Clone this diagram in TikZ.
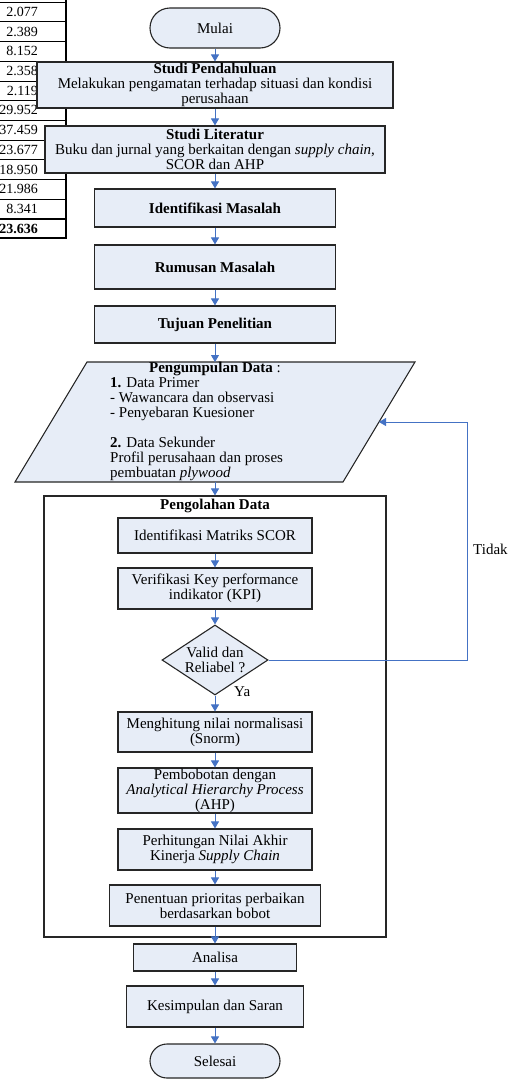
\documentclass[tikz,border=0pt]{standalone}
\usepackage{fontspec}
\setmainfont{Liberation Serif}
\usetikzlibrary{shapes.geometric,arrows.meta}
\definecolor{fondbleu}{RGB}{231,237,247}
\definecolor{bleufleche}{RGB}{68,114,196}

\begin{document}
\begin{tikzpicture}[x=1pt,y=-1pt]

\tikzset{texte/.style={inner sep=0pt,font=\fontsize{15}{15}\selectfont},
	boite/.style={texte,draw=black!85,line width=1.1pt,fill=fondbleu,align=center},
	lien/.style={-{Triangle[width=8pt,length=7pt]},bleufleche,line width=1pt}} %styles des boites et fleches

\useasboundingbox (0,0) rectangle (508,1079);

%----------tableau coupe a gauche------------
\foreach \k in {0,...,11}
	\draw[line width=0.6pt] (0,{2+19.7*\k}) -- (66,{2+19.7*\k});
\foreach \val [count=\i] in {2.077,2.389,8.152,2.358,2.119,29.952,37.459,23.677,18.950,21.986,8.341}
	\node[texte,anchor=east,font=\fontsize{14}{15}\selectfont] (n\i) at (38,{2+19.7*(\i-0.5)}) {\val};
\node[texte,anchor=east,font=\fontsize{14}{15}\selectfont\bfseries] (total) at (38,228.5) {23.636};
\draw[line width=2pt] (0,218.7) -- (66,218.7) (0,238.4) -- (67,238.4);
\draw[line width=2.5pt] (66,0) -- (66,238.4);

%----------debut------------
\node[boite,rounded corners=20pt,minimum width=130pt,minimum height=40pt] (mulai) at (215,28) {Mulai};

\node[boite,minimum width=356pt,minimum height=46pt] (pendahuluan) at (215,85)
	{\textbf{Studi Pendahuluan}\\Melakukan pengamatan terhadap situasi dan kondisi\\perusahaan};
\node[boite,minimum width=340pt,minimum height=47pt] (literatur) at (215,149.5)
	{\textbf{Studi Literatur}\\Buku dan jurnal yang berkaitan dengan \textit{supply chain},\\SCOR dan AHP};
\node[boite,minimum width=241pt,minimum height=38pt] (identifikasi) at (215,208) {\textbf{Identifikasi Masalah}};
\node[boite,minimum width=241pt,minimum height=44pt] (rumusan) at (215,267) {\textbf{Rumusan Masalah}};
\node[boite,minimum width=241pt,minimum height=37pt] (tujuan) at (215,324.5) {\textbf{Tujuan Penelitian}};

%----------pengumpulan data------------
\coordinate (kumpul-atas) at (215,362);
\coordinate (kumpul-bawah) at (215,482);
\coordinate (kumpul-kanan) at (379,422);
\draw[draw=black!85,line width=1.1pt,fill=fondbleu] (15,482) -- (343,482) -- (415,362) -- (87,362) -- cycle;
\node[texte] (kumpul-judul) at (215,369) {\textbf{Pengumpulan Data} :};
\node[texte,align=left,anchor=north west] (kumpul) at (110,377)
	{\textbf{1.} Data Primer\\- Wawancara dan observasi\\- Penyebaran Kuesioner\\[15pt]\textbf{2.} Data Sekunder\\Profil perusahaan dan proses\\pembuatan \textit{plywood}};

%----------pengolahan data------------
\node[texte,draw=black!85,line width=1.1pt,minimum width=342pt,minimum height=441pt] (olah) at (215,716.5) {};
\node[texte] (olah-judul) at (215,506) {\textbf{Pengolahan Data}};

\node[boite,minimum width=194pt,minimum height=35pt] (matriks) at (215,535.5) {Identifikasi Matriks SCOR};
\node[boite,minimum width=194pt,minimum height=41pt] (verifikasi) at (215,588.5) {Verifikasi Key performance\\indikator (KPI)};
\node[boite,diamond,shape aspect=1.5,minimum width=106pt,minimum height=70pt] (valid) at (215,660) {Valid dan\\Reliabel ?};
\node[boite,minimum width=194pt,minimum height=40pt] (normal) at (215,732) {Menghitung nilai normalisasi\\(Snorm)};
\node[boite,minimum width=194pt,minimum height=45pt] (bobot) at (215,790.5) {Pembobotan dengan\\\textit{Analytical Hierarchy Process}\\(AHP)};
\node[boite,minimum width=194pt,minimum height=41pt] (akhir) at (215,849.5) {Perhitungan Nilai Akhir\\Kinerja \textit{Supply Chain}};
\node[boite,minimum width=211pt,minimum height=41pt] (prioritas) at (215,905.5) {Penentuan prioritas perbaikan\\berdasarkan bobot};

%----------fin------------
\node[boite,minimum width=163pt,minimum height=27pt] (analisa) at (215,957.5) {Analisa};
\node[boite,minimum width=177pt,minimum height=41pt] (kesimpulan) at (215,1006.5) {Kesimpulan dan Saran};
\node[boite,rounded corners=17pt,minimum width=130pt,minimum height=34pt] (selesai) at (215,1061) {Selesai};

%----------fleches------------
\draw[lien] (mulai.south) -- (pendahuluan.north);
\draw[lien] (pendahuluan.south) -- (literatur.north);
\draw[lien] (literatur.south) -- (identifikasi.north);
\draw[lien] (identifikasi.south) -- (rumusan.north);
\draw[lien] (rumusan.south) -- (tujuan.north);
\draw[lien] (tujuan.south) -- (kumpul-atas);
\draw[lien] (kumpul-bawah) -- (olah.north);
\draw[lien] (matriks.south) -- (verifikasi.north);
\draw[lien] (verifikasi.south) -- (valid.north);
\draw[lien] (valid.south) -- (normal.north);
\draw[lien] (normal.south) -- (bobot.north);
\draw[lien] (bobot.south) -- (akhir.north);
\draw[lien] (akhir.south) -- (prioritas.north);
\draw[lien] (prioritas.south) -- (analisa.north);
\draw[lien] (analisa.south) -- (kesimpulan.north);
\draw[lien] (kesimpulan.south) -- (selesai.north);

%retour si non valide
\coordinate (retour) at (467,660);
\draw[lien,line width=0.8pt] (valid.east) -- (retour) |- (kumpul-kanan);
\node[texte,anchor=west] (tidak) at (473,549) {Tidak};
\node[texte,anchor=west] (ya) at (234,692) {Ya};

\end{tikzpicture}
\end{document}
